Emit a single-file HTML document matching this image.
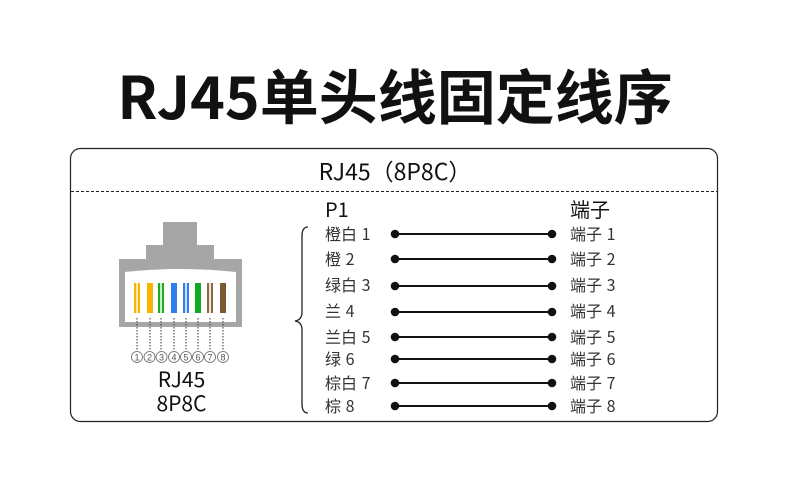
<!DOCTYPE html>
<html><head><meta charset="utf-8"><style>
body{margin:0;width:790px;height:481px;background:#fff;position:relative;overflow:hidden;font-family:"Noto Sans CJK SC","Liberation Sans",sans-serif;color:#111}
.t{position:absolute;white-space:nowrap}
</style></head><body>
<div class="t" style="left:0;width:790px;top:54px;text-align:center;font-size:59px;font-weight:bold;line-height:80px;font-family:'Noto Sans CJK SC',sans-serif">RJ45单头线固定线序</div>
<svg width="790" height="481" style="position:absolute;left:0;top:0">
<rect x="70.5" y="148.5" width="647" height="273" rx="10" fill="none" stroke="#222" stroke-width="1.2"/>
<line x1="71" y1="191.5" x2="717" y2="191.5" stroke="#222" stroke-dasharray="3,2"/>
<rect x="163" y="222" width="34" height="24" fill="#a6a6a6"/>
<rect x="146" y="245" width="68" height="15" fill="#a6a6a6"/>
<rect x="119" y="259" width="123" height="68" fill="#a6a6a6"/>
<path d="M125 322 L125 272 Q180 266 236 272 L236 322 Z" fill="#fff"/>
<g>
<rect x="134" y="283" width="6" height="30" fill="#f7b500"/><rect x="136" y="283" width="2" height="30" fill="#fde9b0"/>
<rect x="147" y="283" width="6" height="30" fill="#f7b500"/>
<rect x="158" y="283" width="6" height="30" fill="#22aa22"/><rect x="160" y="283" width="2" height="30" fill="#c8eec8"/>
<rect x="171" y="283" width="6" height="30" fill="#2f80ed"/>
<rect x="183" y="283" width="6" height="30" fill="#2f80ed"/><rect x="185" y="283" width="2" height="30" fill="#cfe2fb"/>
<rect x="195" y="283" width="6" height="30" fill="#11aa22"/>
<rect x="207" y="283" width="6" height="30" fill="#8a6a45"/><rect x="209" y="283" width="2" height="30" fill="#efe4d8"/>
<rect x="220" y="283" width="6" height="30" fill="#7a5a30"/>
</g>
<g stroke="#333" stroke-dasharray="1.5,1.5" stroke-width="1">
<line x1="137" y1="318" x2="137" y2="350"/><line x1="150" y1="318" x2="150" y2="350"/><line x1="161" y1="318" x2="161" y2="350"/><line x1="174" y1="318" x2="174" y2="350"/><line x1="186" y1="318" x2="186" y2="350"/><line x1="198" y1="318" x2="198" y2="350"/><line x1="210" y1="318" x2="210" y2="350"/><line x1="223" y1="318" x2="223" y2="350"/>
</g>
<g font-family="Liberation Sans,sans-serif" font-size="9" fill="#555" text-anchor="middle">
<g fill="none" stroke="#666" stroke-width="0.8">
<circle cx="137" cy="357" r="5.5"/><circle cx="149.5" cy="357" r="5.5"/><circle cx="161.5" cy="357" r="5.5"/><circle cx="174" cy="357" r="5.5"/><circle cx="186" cy="357" r="5.5"/><circle cx="198" cy="357" r="5.5"/><circle cx="210" cy="357" r="5.5"/><circle cx="223" cy="357" r="5.5"/>
</g>
<text x="137" y="360.5">1</text><text x="149.5" y="360.5">2</text><text x="161.5" y="360.5">3</text><text x="174" y="360.5">4</text><text x="186" y="360.5">5</text><text x="198" y="360.5">6</text><text x="210" y="360.5">7</text><text x="223" y="360.5">8</text>
</g>
<path d="M308 227 Q302 227 302 236 L302 312 Q302 320 295 321 Q302 322 302 330 L302 404 Q302 413 308 413" fill="none" stroke="#222" stroke-width="1.3"/>
<g stroke="#111" stroke-width="2" fill="#111">
<line x1="395" y1="234" x2="552" y2="234"/><circle cx="395" cy="234" r="3.3"/><circle cx="552" cy="234" r="3.3"/>
<line x1="395" y1="259" x2="552" y2="259"/><circle cx="395" cy="259" r="3.3"/><circle cx="552" cy="259" r="3.3"/>
<line x1="395" y1="286" x2="552" y2="286"/><circle cx="395" cy="286" r="3.3"/><circle cx="552" cy="286" r="3.3"/>
<line x1="395" y1="312" x2="552" y2="312"/><circle cx="395" cy="312" r="3.3"/><circle cx="552" cy="312" r="3.3"/>
<line x1="395" y1="337" x2="552" y2="337"/><circle cx="395" cy="337" r="3.3"/><circle cx="552" cy="337" r="3.3"/>
<line x1="395" y1="359" x2="552" y2="359"/><circle cx="395" cy="359" r="3.3"/><circle cx="552" cy="359" r="3.3"/>
<line x1="395" y1="383" x2="552" y2="383"/><circle cx="395" cy="383" r="3.3"/><circle cx="552" cy="383" r="3.3"/>
<line x1="395" y1="406" x2="552" y2="406"/><circle cx="395" cy="406" r="3.3"/><circle cx="552" cy="406" r="3.3"/>
</g>
</svg>
<div class="t" style="left:0;width:790px;top:154px;text-align:center;font-size:23px;line-height:32px">RJ45（8P8C）</div>
<div class="t" style="left:120px;width:123px;top:367px;text-align:center;font-size:21px;line-height:24px">RJ45<br>8P8C</div>
<div class="t" style="left:325px;top:196px;font-size:20px;line-height:26px">P1</div>
<div class="t" style="left:570px;top:196px;font-size:20px;line-height:26px">端子</div>
<div class="t" style="left:325px;top:221px;font-size:16px;line-height:24px;color:#333;word-spacing:1px">
<div style="height:25px">橙白 1</div><div style="height:26px">橙 2</div><div style="height:26px">绿白 3</div><div style="height:26px">兰 4</div><div style="height:22px">兰白 5</div><div style="height:24px">绿 6</div><div style="height:23px">棕白 7</div><div>棕 8</div></div>
<div class="t" style="left:570px;top:221px;font-size:16px;line-height:24px;color:#333;word-spacing:1px">
<div style="height:25px">端子 1</div><div style="height:26px">端子 2</div><div style="height:26px">端子 3</div><div style="height:26px">端子 4</div><div style="height:22px">端子 5</div><div style="height:24px">端子 6</div><div style="height:23px">端子 7</div><div>端子 8</div></div>
</body></html>
